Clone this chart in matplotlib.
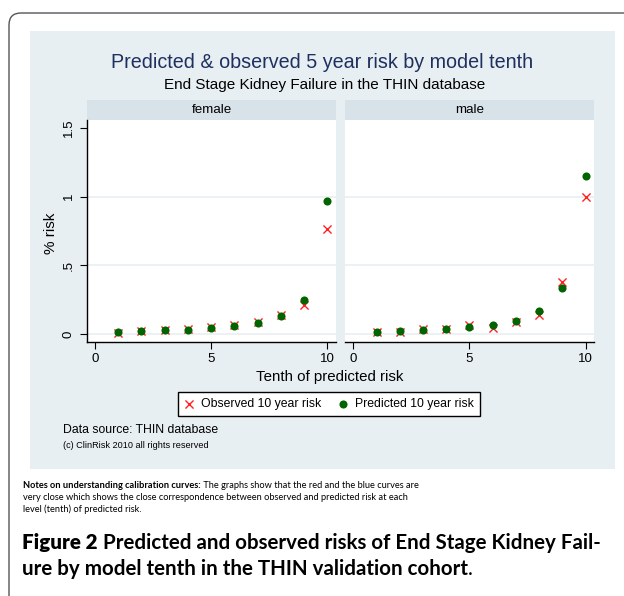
import matplotlib
matplotlib.use("Agg")
import matplotlib.pyplot as plt
from matplotlib.patches import Rectangle, FancyBboxPatch

# tenths of predicted risk
tenth = [1, 2, 3, 4, 5, 6, 7, 8, 9, 10]

# % risk
female_obs = [0.010, 0.020, 0.027, 0.034, 0.049, 0.063, 0.085, 0.140, 0.209, 0.767]
female_pred = [0.015, 0.022, 0.027, 0.032, 0.041, 0.056, 0.080, 0.133, 0.250, 0.966]
male_obs = [0.015, 0.015, 0.034, 0.039, 0.063, 0.046, 0.090, 0.140, 0.376, 1.000]
male_pred = [0.017, 0.022, 0.029, 0.036, 0.049, 0.066, 0.097, 0.165, 0.335, 1.150]

panels = ["female", "male"]
xticks = [0, 5, 10]
yticks = [0, 0.5, 1, 1.5]
ytick_labels = ["0", ".5", "1", "1.5"]

W, H = 624, 596
BG = "#e8eff2"
STRIP = "#d7e3e9"
GRID = "#e9f0f2"
GREEN = "#006400"
RED = "#ff2020"
SANS = "Liberation Sans"

fig = plt.figure(figsize=(W / 100, H / 100), dpi=100)

# full-figure axes in pixel units for frame, background and texts
bg = fig.add_axes([0, 0, 1, 1])
bg.set_xlim(0, W)
bg.set_ylim(H, 0)
bg.axis("off")

bg.add_patch(FancyBboxPatch((9, 13), 660, 640, boxstyle="round,pad=0,rounding_size=12",
                            fc="white", ec="#555555", lw=1))
bg.add_patch(Rectangle((30, 31), 585, 438, fc=BG, ec="none"))

bg.text(322, 62, "Predicted & observed 5 year risk by model tenth", ha="center", va="center",
        fontsize=14.2, color="#1f3060", family=SANS)
bg.text(325, 85, "End Stage Kidney Failure in the THIN database", ha="center", va="center",
        fontsize=11, color="black", family=SANS)

def px_box(x0, y0, x1, y1):
    return [x0 / W, 1 - y1 / H, (x1 - x0) / W, (y1 - y0) / H]

boxes = [(87, 119.5, 336, 342), (345.3, 119.5, 594.3, 342)]
obs = [female_obs, male_obs]
pred = [female_pred, male_pred]

axes = []
for i, (x0, y0, x1, y1) in enumerate(boxes):
    bg.add_patch(Rectangle((x0, 100), x1 - x0, 19.5, fc=STRIP, ec="none"))
    bg.text((x0 + x1) / 2, 110, panels[i], ha="center", va="center", fontsize=9.6, family=SANS)

    ax = fig.add_axes(px_box(x0, y0, x1, y1))
    ax.set_facecolor("white")
    ax.scatter(tenth, obs[i], marker="x", s=34, color=RED, linewidths=1, zorder=3,
               label="Observed 10 year risk")
    ax.scatter(tenth, pred[i], marker="o", s=34, color=GREEN, linewidths=0, zorder=4,
               label="Predicted 10 year risk")
    ax.set_xlim(-0.344, 10.37)
    ax.set_ylim(-0.058, 1.562)
    for g in [0, 0.5, 1]:
        ax.axhline(g, color=GRID, lw=1.2, zorder=1)
    for s in ["top", "right", "left"]:
        ax.spines[s].set_visible(False)
    ax.spines["bottom"].set_linewidth(1)
    ax.set_xticks(xticks)
    ax.set_xticklabels([str(t) for t in xticks], family=SANS, fontsize=9.5)
    ax.tick_params(axis="x", length=5, width=0.8, pad=3)
    if i == 0:
        ax.spines["left"].set_visible(True)
        ax.spines["left"].set_linewidth(1)
        ax.set_yticks(yticks)
        ax.set_yticklabels(ytick_labels, family=SANS, fontsize=9.5, rotation=90, va="center")
        ax.tick_params(axis="y", length=5, width=0.8, pad=4)
    else:
        ax.set_yticks(yticks)
        ax.set_yticklabels([])
        ax.tick_params(axis="y", length=0)
    axes.append(ax)

bg.text(330, 377, "Tenth of predicted risk", ha="center", va="center", fontsize=10.8, family=SANS)
bg.text(51, 233, "% risk", ha="center", va="center", rotation=90, fontsize=11, family=SANS)

handles, labels = axes[0].get_legend_handles_labels()
leg = bg.legend(handles, labels, ncol=2, loc="center", mode="expand",
                bbox_to_anchor=(177.7 / W, 1 - 416.7 / H, 302.6 / W, 25 / H),
                bbox_transform=fig.transFigure, borderaxespad=0, frameon=True, fancybox=False,
                edgecolor="black", framealpha=1, borderpad=0.5, handletextpad=0.6,
                handlelength=0.8, columnspacing=2.0, prop={"family": SANS, "size": 8.8})
leg.get_frame().set_linewidth(1)

bg.text(63, 430, "Data source: THIN database", ha="left", va="center", fontsize=8.8, family=SANS)
bg.text(63, 446, "(c) ClinRisk 2010 all rights reserved", ha="left", va="center", fontsize=6.6,
        family=SANS)

# notes and caption under the graph
NOTE = "Lato"
NS = 6.7
b = bg.text(23, 486, "Notes on understanding calibration curves:", ha="left", va="center",
            fontsize=NS, fontweight="bold", family=NOTE)
bg.annotate(" The graphs show that the red and the blue curves are", xy=(1, 0.5), xycoords=b,
            ha="left", va="center", fontsize=NS, family=NOTE)
bg.text(23, 498, "very close which shows the close correspondence between observed and predicted risk at each",
        ha="left", va="center", fontsize=NS, family=NOTE)
bg.text(23, 509, "level (tenth) of predicted risk.", ha="left", va="center", fontsize=NS, family=NOTE)

CS = 14.8
c = bg.text(22, 543, "Figure 2", ha="left", va="center", fontsize=CS, fontweight="heavy", family=NOTE)
bg.annotate(" Predicted and observed risks of End Stage Kidney Fail-", xy=(1, 0.5), xycoords=c,
            ha="left", va="center", fontsize=CS, fontweight="bold", family=NOTE)
c2 = bg.text(22, 569, "ure by model tenth in the THIN validation cohort", ha="left", va="center",
             fontsize=CS, fontweight="bold", family=NOTE)
bg.annotate(".", xy=(1, 0.5), xycoords=c2, ha="left", va="center", fontsize=CS, family=NOTE)

plt.savefig("out.png", dpi=100)
